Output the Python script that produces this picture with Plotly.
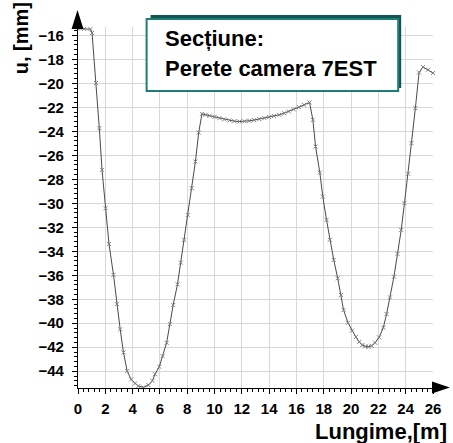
import plotly.graph_objects as go

# Displacement profile along the wall (length in m, displacement in mm)
lungime = [
    0.0, 0.45, 0.91, 1.03, 1.32, 1.56, 1.76, 2.02, 2.27, 2.60, 2.85, 3.09, 3.33,
    3.60, 3.89, 4.18, 4.42, 4.79, 5.15, 5.45, 5.64, 5.95, 6.20, 6.49, 6.73, 6.97,
    7.29, 7.53, 7.77, 8.04, 8.33, 8.60, 8.84, 9.08,
    9.35, 9.64, 10.0, 10.36, 10.7, 11.09, 11.45, 11.82, 12.2, 12.55, 12.9, 13.27,
    13.65, 14.0, 14.35, 14.73, 15.1, 15.45, 15.8, 16.18, 16.55, 16.96,
    17.20, 17.40, 17.71, 17.93, 18.20, 18.44, 18.73, 19.02, 19.26, 19.45, 19.77,
    20.06, 20.35, 20.60, 20.82, 21.05, 21.27, 21.50, 21.76, 22.05, 22.36, 22.60,
    22.85, 23.14, 23.40, 23.67, 23.91, 24.18, 24.42, 24.71, 24.98, 25.27, 25.64,
    26.0,
]
deplasare = [
    -15.44, -15.45, -15.48, -15.80, -19.97, -23.73, -27.21, -30.41, -33.39, -35.97,
    -38.40, -40.51, -42.43, -43.99, -44.68, -45.02, -45.24, -45.35, -45.16, -44.80,
    -44.25, -43.63, -42.74, -41.63, -40.07, -38.48,
    -36.75, -34.95, -33.05, -30.97, -28.74, -26.52, -24.10, -22.54,
    -22.62, -22.70, -22.80, -22.90, -23.00, -23.09, -23.15, -23.18, -23.16, -23.12,
    -23.06, -22.98, -22.90, -22.81, -22.72, -22.62, -22.49, -22.34, -22.17, -21.98,
    -21.79, -21.59,
    -23.04, -25.27, -27.44, -29.44, -31.38, -33.05, -34.72, -36.25, -37.64, -38.90,
    -39.96, -40.62, -41.15, -41.55, -41.82, -41.93, -41.96, -41.88, -41.63, -41.18,
    -40.37, -39.23, -37.84, -36.12, -34.22, -32.22, -29.99, -27.54, -24.98, -22.06,
    -19.09, -18.64, -18.86, -19.14,
]

x_ticks = list(range(0, 27, 2))
y_ticks = list(range(-44, -15, 2))

titlu = ["Secțiune:", "Perete camera 7EST"]
titlu_y = "u, [mm]"
titlu_x = "Lungime,[m]"

W, H = 453, 443
ML, MR, MT, MB = 78, 18, 27, 55
PW, PH = W - ML - MR, H - MT - MB

FONT = "Liberation Sans, Arial, sans-serif"
TEAL = "#1f7d78"
TEAL_DARK = "#0f5652"


def px(x, y):
    """Convert pixel coordinates (from top-left of the page) to paper coordinates."""
    return (x - ML) / PW, (H - MB - y) / PH


def path(points):
    pts = [px(x, y) for x, y in points]
    return "M " + " L ".join(f"{a:.5f},{b:.5f}" for a, b in pts) + " Z"


def rect(x0, y0, x1, y1, **kw):
    a0, b0 = px(x0, y1)
    a1, b1 = px(x1, y0)
    return dict(type="rect", xref="paper", yref="paper", x0=a0, y0=b0, x1=a1, y1=b1, **kw)


fig = go.Figure()
fig.add_trace(go.Scatter(
    x=lungime, y=deplasare, mode="lines+markers",
    line=dict(color="#4a4a4a", width=1),
    marker=dict(symbol="x-thin", size=4, line=dict(color="#808080", width=1)),
    cliponaxis=False, showlegend=False,
))

axis_common = dict(
    showline=True, linecolor="black", linewidth=1.2,
    showgrid=True, gridcolor="#d8d8d8", gridwidth=1,
    zeroline=False, ticks="outside", ticklen=5, tickcolor="black", tickwidth=1,
    tickfont=dict(family=FONT, size=15, color="black", weight="bold"),
)

fig.update_xaxes(
    range=[0, 26], tickvals=x_ticks, ticklabelstandoff=2,
    minor=dict(dtick=0.4, tick0=0, ticks="outside", ticklen=3, tickcolor="black", showgrid=False),
    **axis_common,
)
fig.update_yaxes(
    range=[-45.4, -15.3], tickvals=y_ticks, ticklabelstandoff=5,
    minor=dict(dtick=0.4, tick0=0, ticks="outside", ticklen=3, tickcolor="black", showgrid=False),
    **axis_common,
)

shapes = [
    # arrowheads at the ends of the axes
    dict(type="path", xref="paper", yref="paper", fillcolor="black", line=dict(width=0),
         path=path([(77.5, 10), (71.5, 29), (83.5, 29)])),
    dict(type="path", xref="paper", yref="paper", fillcolor="black", line=dict(width=0),
         path=path([(452, 387.5), (434, 381.5), (434, 393.5)])),
    # title box with its shadow
    rect(151, 15, 403, 88, fillcolor=TEAL_DARK, line=dict(width=0)),
    rect(147, 19, 400, 91, fillcolor="white", line=dict(color=TEAL, width=2)),
]

annotations = []
for txt, yc in zip(titlu, [38.5, 68.5]):
    a, b = px(163, yc)
    annotations.append(dict(
        text=txt, xref="paper", yref="paper", x=a, y=b, xanchor="left", yanchor="middle",
        showarrow=False, font=dict(family=FONT, size=22, color="black", weight="bold"),
    ))
a, b = px(21, 38)
annotations.append(dict(
    text=titlu_y, xref="paper", yref="paper", x=a, y=b, xanchor="center", yanchor="middle",
    textangle=-90, showarrow=False,
    font=dict(family=FONT, size=20, color="black", weight="bold"),
))
a, b = px(451, 431)
annotations.append(dict(
    text=titlu_x, xref="paper", yref="paper", x=a, y=b, xanchor="right", yanchor="middle",
    showarrow=False, font=dict(family=FONT, size=22, color="black", weight="bold"),
))

fig.update_layout(
    width=W, height=H,
    margin=dict(l=ML, r=MR, t=MT, b=MB, pad=0),
    paper_bgcolor="white", plot_bgcolor="white",
    shapes=shapes, annotations=annotations,
)

fig.write_html("out.html", config={"displayModeBar": False})
